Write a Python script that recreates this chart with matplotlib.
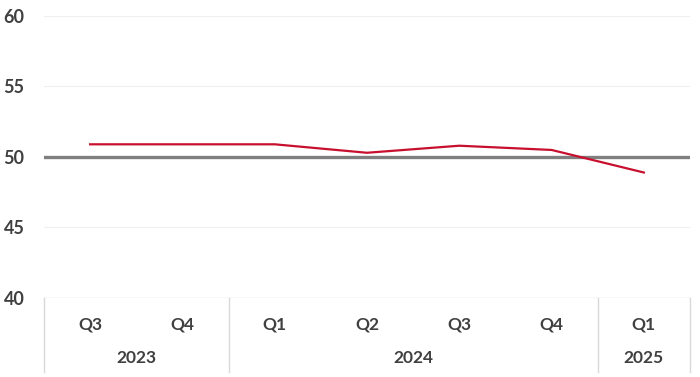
import matplotlib
matplotlib.use("Agg")
import matplotlib.pyplot as plt
import matplotlib.transforms as mtransforms

quarters = ["Q3", "Q4", "Q1", "Q2", "Q3", "Q4", "Q1"]
years = ["2023", "2024", "2025"]
year_spans = [2, 4, 1]
values = [50.9, 50.9, 50.9, 50.3, 50.8, 50.5, 48.9]
yticks = [40, 45, 50, 55, 60]

W, H = 700, 377
fig = plt.figure(figsize=(W / 100, H / 100), dpi=100)
left, right, top, bottom = 44, 690, 16, 298
ax = fig.add_axes([left / W, 1 - bottom / H, (right - left) / W, (bottom - top) / H])

txt_color = "#404040"
font = "Lato"

x = list(range(len(values)))
ax.set_xlim(-0.5, len(values) - 0.5)
ax.set_ylim(40, 60)

for t in yticks:
    if t == 40:
        ax.axhline(t, color="#D9D9D9", lw=1.0, zorder=1)
    elif t != 50:
        ax.axhline(t, color="#EFEFEF", lw=0.8, zorder=1)
ax.axhline(50, color="#7F7F7F", lw=2.4, zorder=2)

ax.plot(x, values, color="#C8102E", lw=1.6, zorder=3)

for s in ax.spines.values():
    s.set_visible(False)
ax.set_xticks([])
ax.set_yticks(yticks)
ax.set_yticklabels([str(t) for t in yticks], fontsize=13, color=txt_color,
                   fontfamily=font, fontweight="bold")
ax.tick_params(axis="y", length=0, pad=14)

trans = mtransforms.blended_transform_factory(ax.transData, ax.transAxes)
ph = bottom - top
y_q = -(324 - bottom) / ph
y_y = -(358 - bottom) / ph
y_end = -(372 - bottom) / ph

for i, q in enumerate(quarters):
    ax.text(i, y_q, q, transform=trans, ha="center", va="center", fontsize=12.5,
            color=txt_color, fontfamily=font, fontweight="bold")

start = 0
bounds = [-0.5]
for yr, span in zip(years, year_spans):
    center = start + (span - 1) / 2
    ax.text(center, y_y, yr, transform=trans, ha="center", va="center", fontsize=12.5,
            color=txt_color, fontfamily=font, fontweight="bold")
    start += span
    bounds.append(start - 0.5)

for b in bounds:
    ax.plot([b, b], [0, y_end], transform=trans, color="#D9D9D9", lw=1.0, clip_on=False)

fig.savefig("out.png", dpi=100)
